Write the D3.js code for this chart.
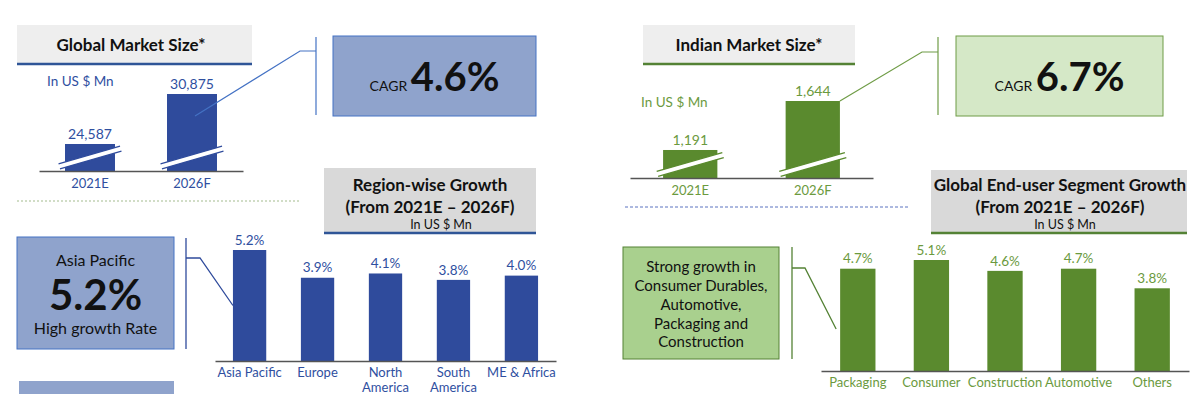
<!DOCTYPE html>
<meta charset="utf-8">
<style>
  body { margin: 0; background: #fff; }
  svg { display: block; font-family: Lato, "Open Sans", sans-serif; }
</style>
<script src="https://d3js.org/d3.v7.min.js"></script>
<svg id="market-chart" width="1200" height="394"></svg>
<script>
  // Data
  var years = ["2021E", "2026F"];
  var globalSize = [24587, 30875];
  var indiaSize = [1191, 1644];
  var globalCagr = "4.6%";
  var indiaCagr = "6.7%";
  var regions = ["Asia Pacific", "Europe", "North America", "South America", "ME & Africa"];
  var regionGrowth = [5.2, 3.9, 4.1, 3.8, 4.0];
  var segments = ["Packaging", "Consumer", "Construction", "Automotive", "Others"];
  var segmentGrowth = [4.7, 5.1, 4.6, 4.7, 3.8];

  var blue = { bar: "#2f4b9c", text: "#2f4f9f", line: "#4472c4", under: "#2f5597", fill: "#8fa3cc" };
  var green = { bar: "#5a8a2e", text: "#6b9a3e", line: "#6f9c46", under: "#548235", fill: "#d5e8c7", fill2: "#a9d08e" };

  var svg = d3.select("#market-chart");
  svg.append("rect").attr("width", 1200).attr("height", 394).attr("fill", "#fff");

  // grey title box with coloured underline
  function header(x, y, w, h, fill, lineColor, lines) {
    var g = svg.append("g");
    g.append("rect").attr("x", x).attr("y", y).attr("width", w).attr("height", h).attr("fill", fill);
    g.append("line").attr("x1", x).attr("x2", x + w).attr("y1", y + h + 1).attr("y2", y + h + 1)
      .attr("stroke", lineColor).attr("stroke-width", 2.5);
    lines.forEach(function(l) {
      g.append("text").attr("x", l.x || x + w / 2).attr("y", l.y).attr("dy", "0.35em")
        .attr("text-anchor", "middle").attr("font-size", l.size).attr("font-weight", l.bold ? 700 : 400)
        .attr("fill", "#111").text(l.t);
    });
  }

  // market size bars with a broken axis
  function marketChart(vals, o) {
    var g = svg.append("g");
    var x = d3.scaleBand().domain(years).range([o.x0, o.x1]).paddingInner(o.pi).paddingOuter(o.po);
    var y = d3.scaleLinear().domain(o.dom).range([o.base, o.top]);
    var data = years.map(function(d, i) { return { k: d, v: vals[i] }; });

    g.selectAll("rect.bar").data(data).enter().append("rect").attr("class", "bar")
      .attr("x", function(d) { return x(d.k); })
      .attr("y", function(d) { return y(d.v); })
      .attr("width", x.bandwidth())
      .attr("height", function(d) { return o.base - y(d.v); })
      .attr("fill", o.color.bar);

    // break marks
    var L = x.bandwidth() + 14;
    data.forEach(function(d) {
      var b = g.append("g").attr("transform",
        "translate(" + (x(d.k) + x.bandwidth() / 2) + "," + (o.base - 13.5) + ") rotate(-16)");
      b.append("rect").attr("x", -L / 2).attr("y", -2.6).attr("width", L).attr("height", 5.2).attr("fill", "#fff");
      [-2.6, 2.6].forEach(function(dy) {
        b.append("line").attr("x1", -L / 2).attr("x2", L / 2).attr("y1", dy).attr("y2", dy)
          .attr("stroke", o.color.bar).attr("stroke-width", 1.3);
      });
    });

    g.selectAll("text.val").data(data).enter().append("text").attr("class", "val")
      .attr("x", function(d) { return x(d.k) + x.bandwidth() / 2; })
      .attr("y", function(d) { return y(d.v) - 10; })
      .attr("dy", "0.35em").attr("text-anchor", "middle").attr("font-size", 14)
      .attr("fill", o.color.text).text(function(d) { return d3.format(",")(d.v); });

    var ax = g.append("g").attr("transform", "translate(0," + o.base + ")")
      .call(d3.axisBottom(x).tickSize(0).tickSizeOuter(0))
      .attr("font-family", null);
    ax.select(".domain").attr("stroke", "#555").attr("stroke-width", 1.5);
    ax.selectAll("text").attr("y", 12).attr("dy", "0.35em").attr("font-size", 13)
      .attr("fill", o.color.text);
    return { x: x, y: y };
  }

  // growth bar chart
  function growthChart(cats, vals, o) {
    var g = svg.append("g");
    var x = d3.scaleBand().domain(cats).range([o.x0, o.x1]).paddingInner(o.pi).paddingOuter(o.po);
    var y = d3.scaleLinear().domain([0, d3.max(vals)]).range([o.base, o.top]);
    var data = cats.map(function(d, i) { return { k: d, v: vals[i] }; });

    g.selectAll("rect").data(data).enter().append("rect")
      .attr("x", function(d) { return x(d.k); })
      .attr("y", function(d) { return y(d.v); })
      .attr("width", x.bandwidth())
      .attr("height", function(d) { return o.base - y(d.v); })
      .attr("fill", o.color.bar);

    g.selectAll("text.val").data(data).enter().append("text").attr("class", "val")
      .attr("x", function(d) { return x(d.k) + x.bandwidth() / 2; })
      .attr("y", function(d) { return y(d.v) - 10; })
      .attr("dy", "0.35em").attr("text-anchor", "middle").attr("font-size", 13.5)
      .attr("fill", o.color.text).text(function(d) { return d.v.toFixed(1) + "%"; });

    var ax = g.append("g").attr("transform", "translate(0," + o.base + ")")
      .call(d3.axisBottom(x).tickSize(0).tickSizeOuter(0))
      .attr("font-family", null);
    ax.select(".domain").attr("stroke", "#555").attr("stroke-width", 1.5);
    ax.selectAll("text").attr("font-size", 13).attr("fill", o.color.text)
      .attr("y", 11).attr("dy", "0.35em")
      .each(function(d) {
        // two-line labels for the Americas
        if (!/America/.test(d)) return;
        var words = d.split(" ");
        var t = d3.select(this).text(null);
        t.append("tspan").attr("x", 0).text(words[0]);
        t.append("tspan").attr("x", 0).attr("dy", "1.15em").text(words[1]);
      });
    return { x: x, y: y };
  }

  // ---------- top left: global market size ----------
  header(17, 25, 235, 38, "#eeeeee", blue.under, [{ t: "Global Market Size*", y: 45, size: 17, bold: true, x: 131 }]);
  svg.append("text").attr("x", 47).attr("y", 81).attr("dy", "0.35em").attr("font-size", 13.5)
    .attr("fill", blue.text).text("In US $ Mn");
  var gm = marketChart(globalSize, { x0: 39, x1: 243, pi: 0.51, po: 0.255, dom: [21191, 30875], base: 171, top: 94, color: blue });

  svg.append("polyline")
    .attr("points", [[gm.x(years[1]) + 28, gm.y(globalSize[1]) + 22], [300, 51], [316, 51]].join(" "))
    .attr("fill", "none").attr("stroke", blue.line).attr("stroke-width", 1.2);
  svg.append("line").attr("x1", 316).attr("x2", 316).attr("y1", 37).attr("y2", 115)
    .attr("stroke", blue.line).attr("stroke-width", 1.2);
  svg.append("rect").attr("x", 333).attr("y", 36).attr("width", 203).attr("height", 80)
    .attr("fill", blue.fill).attr("stroke", blue.line).attr("stroke-width", 1);
  var c1 = svg.append("text").attr("x", 434.5).attr("y", 91).attr("text-anchor", "middle").attr("fill", "#111");
  c1.append("tspan").attr("font-size", 14).text("CAGR ");
  c1.append("tspan").attr("font-size", 40).attr("font-weight", 700).text(globalCagr);

  // ---------- top right: indian market size ----------
  header(643, 25, 212, 38, "#eeeeee", green.under, [{ t: "Indian Market Size*", y: 45, size: 17, bold: true }]);
  svg.append("text").attr("x", 641).attr("y", 102).attr("dy", "0.35em").attr("font-size", 13.5)
    .attr("fill", green.text).text("In US $ Mn");
  var im = marketChart(indiaSize, { x0: 630, x1: 873, pi: 0.557, po: 0.27, dom: [932, 1644], base: 178, top: 101, color: green });

  svg.append("polyline")
    .attr("points", [[im.x(years[1]) + im.x.bandwidth(), im.y(indiaSize[1])], [922, 52], [938, 52]].join(" "))
    .attr("fill", "none").attr("stroke", green.line).attr("stroke-width", 1.2);
  svg.append("line").attr("x1", 938).attr("x2", 938).attr("y1", 37).attr("y2", 115)
    .attr("stroke", green.line).attr("stroke-width", 1.2);
  svg.append("rect").attr("x", 956).attr("y", 36).attr("width", 207).attr("height", 80)
    .attr("fill", green.fill).attr("stroke", green.line).attr("stroke-width", 1);
  var c2 = svg.append("text").attr("x", 1059.5).attr("y", 91).attr("text-anchor", "middle").attr("fill", "#111");
  c2.append("tspan").attr("font-size", 14).text("CAGR ");
  c2.append("tspan").attr("font-size", 40).attr("font-weight", 700).text(indiaCagr);

  // separators
  svg.append("line").attr("x1", 17).attr("x2", 300).attr("y1", 201).attr("y2", 201)
    .attr("stroke", "#a3bb8e").attr("stroke-width", 1.2).attr("stroke-dasharray", "2,2");
  svg.append("line").attr("x1", 625).attr("x2", 908).attr("y1", 207).attr("y2", 207)
    .attr("stroke", "#5b73c0").attr("stroke-width", 1).attr("stroke-dasharray", "3,2");

  // ---------- bottom left: region-wise growth ----------
  header(324, 168, 212, 64, "#d9d9d9", blue.under, [
    { t: "Region-wise Growth", y: 185, size: 17, bold: true },
    { t: "(From 2021E \u2013 2026F)", y: 207, size: 17, bold: true },
    { t: "In US $ Mn", y: 225, size: 12.5, x: 441 }
  ]);
  var rg = growthChart(regions, regionGrowth, { x0: 215, x1: 556, pi: 0.51, po: 0.264, base: 361, top: 250, color: blue });

  svg.append("rect").attr("x", 17).attr("y", 237).attr("width", 157).attr("height", 112)
    .attr("fill", blue.fill).attr("stroke", blue.line).attr("stroke-width", 1);
  svg.append("text").attr("x", 95.5).attr("y", 260).attr("dy", "0.35em").attr("text-anchor", "middle")
    .attr("font-size", 16).attr("fill", "#111").text(regions[0]);
  svg.append("text").attr("x", 95.5).attr("y", 295).attr("dy", "0.35em").attr("text-anchor", "middle")
    .attr("font-size", 42).attr("font-weight", 700).attr("fill", "#111").text(regionGrowth[0].toFixed(1) + "%");
  svg.append("text").attr("x", 95.5).attr("y", 328).attr("dy", "0.35em").attr("text-anchor", "middle")
    .attr("font-size", 16).attr("fill", "#111").text("High growth Rate");
  svg.append("rect").attr("x", 19).attr("y", 381).attr("width", 155).attr("height", 20).attr("fill", blue.fill);

  svg.append("line").attr("x1", 186).attr("x2", 186).attr("y1", 238).attr("y2", 349)
    .attr("stroke", blue.bar).attr("stroke-width", 1.3);
  svg.append("polyline")
    .attr("points", [[186, 258], [200, 258], [rg.x(regions[0]), rg.y(regionGrowth[0] / 2)]].join(" "))
    .attr("fill", "none").attr("stroke", blue.bar).attr("stroke-width", 1.3);

  // ---------- bottom right: end-user segment growth ----------
  header(931, 170, 256, 62, "#d9d9d9", green.under, [
    { t: "Global End-user Segment Growth", y: 185, size: 17, bold: true, x: 1060 },
    { t: "(From 2021E \u2013 2026F)", y: 207, size: 17, bold: true, x: 1060 },
    { t: "In US $ Mn", y: 225, size: 12.5, x: 1065 }
  ]);
  var sg = growthChart(segments, segmentGrowth, { x0: 821, x1: 1189, pi: 0.52, po: 0.26, base: 371, top: 260, color: green });

  svg.append("rect").attr("x", 623).attr("y", 247).attr("width", 156).attr("height", 112)
    .attr("fill", green.fill2).attr("stroke", green.under).attr("stroke-width", 1);
  var note = ["Strong growth in", "Consumer Durables,", "Automotive,", "Packaging and", "Construction"];
  svg.append("g").selectAll("text").data(note).enter().append("text")
    .attr("x", 701).attr("y", function(d, i) { return 267 + i * 18.75; }).attr("dy", "0.35em")
    .attr("text-anchor", "middle").attr("font-size", 15).attr("fill", "#111").text(function(d) { return d; });

  svg.append("line").attr("x1", 792).attr("x2", 792).attr("y1", 247).attr("y2", 359)
    .attr("stroke", green.under).attr("stroke-width", 1.3);
  svg.append("polyline")
    .attr("points", [[792, 268], [805, 268], [sg.x(segments[0]) - 4, sg.y(segmentGrowth[0] * 0.41)]].join(" "))
    .attr("fill", "none").attr("stroke", green.under).attr("stroke-width", 1.3);
</script>
